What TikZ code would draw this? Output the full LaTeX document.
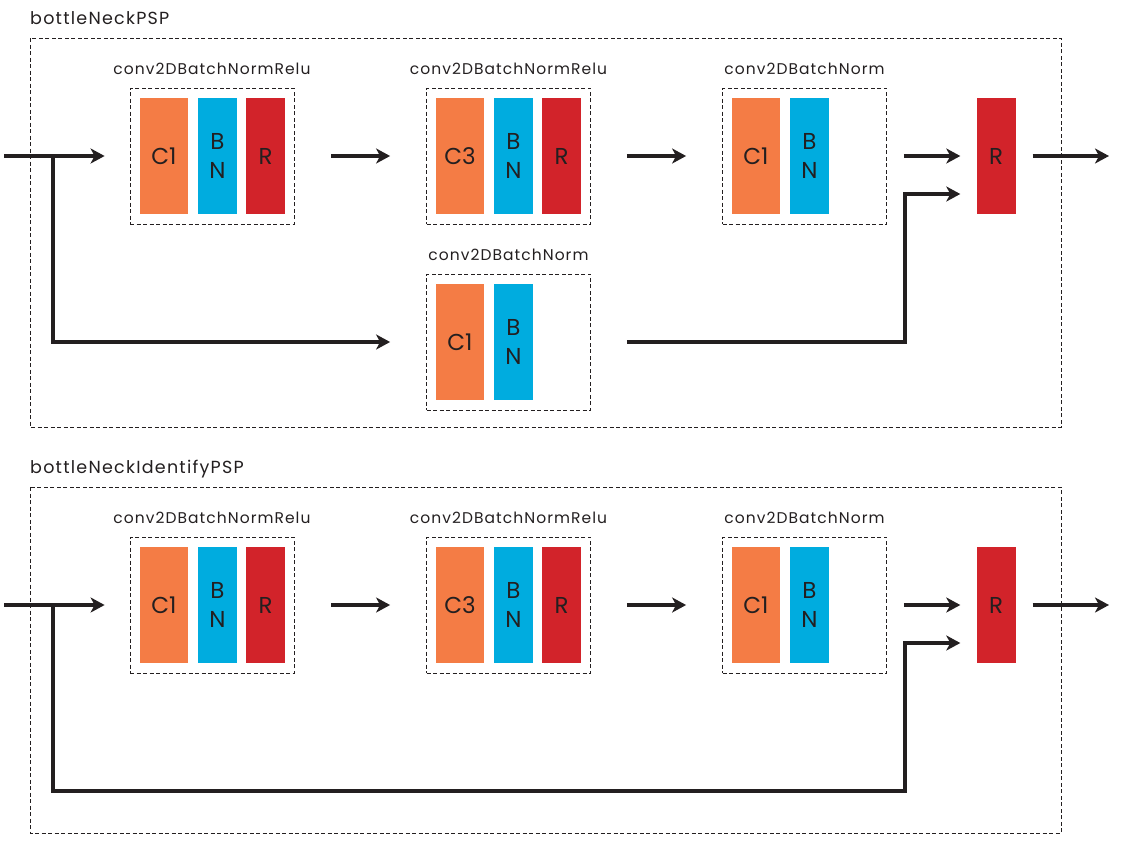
\documentclass[tikz,border=0pt]{standalone}
\usepackage{fontspec}
\setmainfont{Poppins}
\newfontfamily\labfont[LetterSpace=6.8]{Poppins}
\newfontfamily\titfont[LetterSpace=7.1]{Poppins}
\usetikzlibrary{arrows.meta}
\definecolor{cOr}{HTML}{F47C45}
\definecolor{cBl}{HTML}{00ACDF}
\definecolor{cRd}{HTML}{D2232A}
\definecolor{cLn}{HTML}{231F20}
\begin{document}
\begin{tikzpicture}[x=1pt,y=-1pt,
  outerbox/.style={draw=cLn, line width=0.8pt, dash pattern=on 4pt off 2.5pt},
  groupbox/.style={draw=cLn, line width=0.8pt, dash pattern=on 4pt off 2.5pt, inner sep=0pt, minimum width=164pt, minimum height=136pt},
  title/.style={font=\titfont\fontsize{17.5}{20}\selectfont, text=cLn, inner sep=0pt, anchor=base west},
  lab/.style={font=\labfont\fontsize{15.5}{18}\selectfont, text=cLn, inner sep=0pt, anchor=base},
  layer/.style={inner sep=0pt, minimum height=116pt, text=cLn, align=center,
    font=\fontsize{23}{29}\selectfont},
  conv/.style={layer, fill=cOr, minimum width=48pt},
  bn/.style={layer, fill=cBl, minimum width=39pt},
  relu/.style={layer, fill=cRd, minimum width=39pt},
  arr/.style={draw=cLn, line width=3.3pt, -{Stealth[length=14pt, width=15pt, inset=4pt]}}
]
\useasboundingbox (0,0) rectangle (1131,846);

% ---------- bottleNeckPSP ----------
\node[title] (t1) at (30,24) {bottleNeckPSP};
\draw[outerbox] (30,38) rectangle (1061,427);

\node[groupbox] (b1) at (212,156) {};
\node[lab] (l1) at (212,74) {conv2DBatchNormRelu};
\node[conv] (b1c) at (164,156) {C1};
\node[bn] (b1b) at (217.5,156) {B\\N};
\node[relu] (b1r) at (265.5,156) {R};

\node[groupbox] (b2) at (508.5,156) {};
\node[lab] (l2) at (508.5,74) {conv2DBatchNormRelu};
\node[conv] (b2c) at (460,156) {C3};
\node[bn] (b2b) at (513.5,156) {B\\N};
\node[relu] (b2r) at (561.5,156) {R};

\node[groupbox] (b3) at (804.5,156) {};
\node[lab] (l3) at (804.5,74) {conv2DBatchNorm};
\node[conv] (b3c) at (756,156) {C1};
\node[bn] (b3b) at (809.5,156) {B\\N};

\node[groupbox] (b4) at (508.5,342) {};
\node[lab] (l4) at (508.5,260) {conv2DBatchNorm};
\node[conv] (b4c) at (460,342) {C1};
\node[bn] (b4b) at (513.5,342) {B\\N};

\node[relu] (r1) at (996,156) {R};

\coordinate (in1) at (4,156);
\coordinate (j1) at (53,156);
\coordinate (k1) at (905,194);
\coordinate (out1) at (1109,156);

\draw[arr, shorten >=25pt] (in1) -- (b1);
\draw[arr, shorten >=36pt] ([yshift=-1.6pt]j1) |- (b4.west);
\draw[arr, shorten <=37pt, shorten >=36pt] (b1) -- (b2);
\draw[arr, shorten <=36pt, shorten >=36pt] (b2) -- (b3);
\draw[arr, shorten <=17pt, shorten >=16pt] (b3) -- (r1);
\draw[arr, shorten <=17pt] (r1) -- (out1);
\draw[arr, shorten <=36pt, shorten >=16pt] (b4.east) -| (k1) -- (k1 -| r1.west);

% ---------- bottleNeckIdentifyPSP ----------
\node[title] (t2) at (30,473) {bottleNeckIdentifyPSP};
\draw[outerbox] (30,487) rectangle (1061,833);

\node[groupbox] (c1) at (212,605) {};
\node[lab] (m1) at (212,523) {conv2DBatchNormRelu};
\node[conv] (c1c) at (164,605) {C1};
\node[bn] (c1b) at (217.5,605) {B\\N};
\node[relu] (c1r) at (265.5,605) {R};

\node[groupbox] (c2) at (508.5,605) {};
\node[lab] (m2) at (508.5,523) {conv2DBatchNormRelu};
\node[conv] (c2c) at (460,605) {C3};
\node[bn] (c2b) at (513.5,605) {B\\N};
\node[relu] (c2r) at (561.5,605) {R};

\node[groupbox] (c3) at (804.5,605) {};
\node[lab] (m3) at (804.5,523) {conv2DBatchNorm};
\node[conv] (c3c) at (756,605) {C1};
\node[bn] (c3b) at (809.5,605) {B\\N};

\node[relu] (r2) at (996,605) {R};

\coordinate (in2) at (4,605);
\coordinate (j2) at (53,605);
\coordinate (d2) at (905,791);
\coordinate (k2) at (905,643);
\coordinate (out2) at (1109,605);

\draw[arr, shorten >=25pt] (in2) -- (c1);
\draw[arr, shorten >=16pt] ([yshift=-1.6pt]j2) |- (d2) -- (k2) -- (k2 -| r2.west);
\draw[arr, shorten <=37pt, shorten >=36pt] (c1) -- (c2);
\draw[arr, shorten <=36pt, shorten >=36pt] (c2) -- (c3);
\draw[arr, shorten <=17pt, shorten >=16pt] (c3) -- (r2);
\draw[arr, shorten <=17pt] (r2) -- (out2);
\end{tikzpicture}
\end{document}
